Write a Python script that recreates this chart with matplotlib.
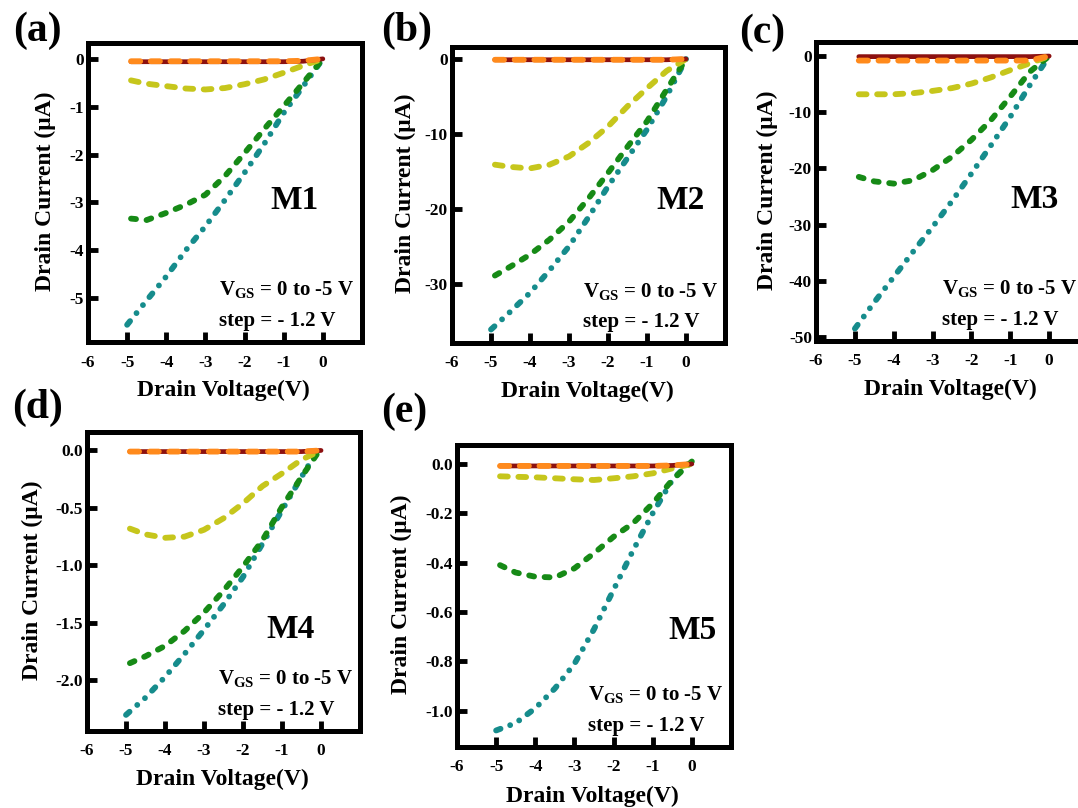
import numpy as np
import matplotlib
matplotlib.use("Agg")
import matplotlib.pyplot as plt

plt.rcParams['font.family'] = ['Liberation Serif', 'DejaVu Serif']
plt.rcParams['font.weight'] = 'bold'
plt.rcParams['axes.unicode_minus'] = False
plt.rcParams['mathtext.default'] = 'regular'
plt.rcParams['lines.scale_dashes'] = False

# drain voltage grid (V)
vd = [-4.9, -4.5, -4.0, -3.5, -3.0, -2.5, -2.0, -1.5, -1.0, -0.5, 0.0]
vd_t = [-5.0, -4.5, -4.0, -3.5, -3.0, -2.5, -2.0, -1.5, -1.0, -0.5, 0.0]

# drain currents (uA) for the five V_GS steps, panels M1..M5
red_a = [-0.06, -0.06, -0.06, -0.06, -0.06, -0.06, -0.06, -0.06, -0.06, -0.05, 0.0]
orange_a = [-0.05, -0.05, -0.05, -0.05, -0.05, -0.05, -0.05, -0.05, -0.05, -0.04, 0.0]
yellow_a = [-0.45, -0.52, -0.57, -0.62, -0.64, -0.61, -0.53, -0.43, -0.29, -0.14, 0.0]
green_a = [-3.34, -3.37, -3.22, -3.05, -2.84, -2.45, -1.97, -1.47, -0.99, -0.50, 0.0]
teal_a = [-5.56, -5.05, -4.55, -4.00, -3.50, -2.95, -2.38, -1.78, -1.13, -0.57, 0.0]

red_b = [-0.1, -0.1, -0.1, -0.1, -0.1, -0.1, -0.1, -0.1, -0.1, -0.1, 0.0]
orange_b = [-0.1, -0.1, -0.1, -0.1, -0.1, -0.1, -0.1, -0.1, -0.1, -0.1, 0.0]
yellow_b = [-14.1, -14.4, -14.6, -14.1, -13.0, -11.2, -9.0, -6.3, -3.9, -1.6, 0.0]
green_b = [-28.9, -27.7, -26.1, -24.1, -21.7, -18.6, -15.2, -11.7, -8.3, -4.1, 0.0]
teal_b = [-36.1, -33.7, -31.2, -28.2, -25.0, -21.1, -17.0, -13.2, -9.4, -5.0, 0.0]

red_c = [-0.1, -0.1, -0.1, -0.1, -0.1, -0.1, -0.1, -0.1, -0.1, -0.1, 0.0]
orange_c = [-0.8, -0.8, -0.8, -0.8, -0.8, -0.8, -0.8, -0.8, -0.8, -0.8, 0.0]
yellow_c = [-6.8, -6.8, -6.8, -6.6, -6.2, -5.7, -4.9, -3.8, -2.5, -1.3, 0.0]
green_c = [-21.5, -22.3, -22.7, -22.1, -20.3, -17.9, -14.9, -11.4, -7.2, -2.8, 0.0]
teal_c = [-48.5, -43.8, -39.3, -34.8, -30.4, -25.8, -20.9, -15.9, -10.8, -5.2, 0.0]

red_d = [-0.01, -0.01, -0.01, -0.01, -0.01, -0.01, -0.01, -0.01, -0.01, -0.01, 0.0]
orange_d = [-0.01, -0.01, -0.01, -0.01, -0.01, -0.01, -0.01, -0.01, -0.01, -0.01, 0.0]
yellow_d = [-0.68, -0.73, -0.76, -0.75, -0.69, -0.59, -0.46, -0.31, -0.20, -0.08, 0.0]
green_d = [-1.85, -1.79, -1.70, -1.57, -1.41, -1.22, -1.01, -0.78, -0.49, -0.23, 0.02]
teal_d = [-2.30, -2.15, -1.97, -1.77, -1.56, -1.34, -1.10, -0.81, -0.52, -0.23, 0.05]

red_e = [-0.008, -0.008, -0.008, -0.008, -0.008, -0.008, -0.008, -0.008, -0.008, -0.006, 0.0]
orange_e = [-0.008, -0.008, -0.008, -0.008, -0.008, -0.008, -0.008, -0.008, -0.008, -0.006, 0.0]
yellow_e = [-0.050, -0.052, -0.054, -0.058, -0.062, -0.065, -0.058, -0.050, -0.038, -0.018, 0.0]
green_e = [-0.41, -0.44, -0.457, -0.46, -0.423, -0.362, -0.295, -0.24, -0.16, -0.065, 0.01]
teal_e = [-1.08, -1.05, -0.99, -0.91, -0.81, -0.67, -0.51, -0.35, -0.20, -0.065, 0.016]

panel_tags = ['(a)', '(b)', '(c)', '(d)', '(e)']
device_names = ['M1', 'M2', 'M3', 'M4', 'M5']
yticks_list = [
    [0, -1, -2, -3, -4, -5],
    [0, -10, -20, -30],
    [0, -10, -20, -30, -40, -50],
    [0.0, -0.5, -1.0, -1.5, -2.0],
    [0.0, -0.2, -0.4, -0.6, -0.8, -1.0],
]
xticks = [-6, -5, -4, -3, -2, -1, 0]

curves = [
    (red_a, orange_a, yellow_a, green_a, teal_a),
    (red_b, orange_b, yellow_b, green_b, teal_b),
    (red_c, orange_c, yellow_c, green_c, teal_c),
    (red_d, orange_d, yellow_d, green_d, teal_d),
    (red_e, orange_e, yellow_e, green_e, teal_e),
]

# layout (figure fractions) and per-panel limits
boxes = [
    [0.0816, 0.5767, 0.2542, 0.3700],
    [0.4193, 0.5755, 0.2533, 0.3663],
    [0.7570, 0.5780, 0.2523, 0.3700],
    [0.0807, 0.0953, 0.2533, 0.3700],
    [0.4239, 0.0755, 0.2542, 0.3738],
]
ylims = [(-5.92, 0.33), (-37.9, 1.6), (-50.7, 2.5), (-2.44, 0.16), (-1.147, 0.077)]
name_pos = [(0.752, 0.475), (0.835, 0.483), (0.805, 0.472), (0.744, 0.338), (0.861, 0.387)]
note_x = [0.478, 0.478, 0.462, 0.478, 0.478]
ylab_x = [-0.157, -0.172, -0.180, -0.201, -0.201]
tag_pos = [(0.035, 0.962), (0.377, 0.962), (0.707, 0.960), (0.035, 0.495), (0.375, 0.490)]

c_red = '#8c1010'
c_orange = '#ff8a1c'
c_yellow = '#c6c61c'
c_green = '#168a16'
c_teal = '#168c8c'
lw = 4.2

fig = plt.figure(figsize=(10.78, 8.08), dpi=100)

for i in range(5):
    ax = fig.add_axes(boxes[i])
    red, orange, yellow, green, teal = curves[i]
    ax.plot(vd_t, teal, color=c_teal, lw=lw, dash_capstyle='round',
            linestyle=(0, (3.4, 7.4, 0.01, 7.4, 0.01, 7.4)))
    ax.plot(vd, green, color=c_green, lw=lw, dash_capstyle='round',
            linestyle=(0, (3.6, 7.6)))
    ax.plot(vd, yellow, color=c_yellow, lw=lw, dash_capstyle='round',
            linestyle=(0, (5.6, 7.6)))
    ax.plot(vd, red, color=c_red, lw=3.4, solid_capstyle='round')
    ax.plot(vd, orange, color=c_orange, lw=lw, dash_capstyle='round',
            linestyle=(0, (6.6, 7.6)))

    ax.set_xlim(-6, 1)
    ax.set_ylim(*ylims[i])
    ax.set_xticks(xticks)
    ax.set_yticks(yticks_list[i])
    if i >= 3:
        ax.set_yticklabels([f'{v:.1f}' for v in yticks_list[i]])
    else:
        ax.set_yticklabels([f'{v:g}' for v in yticks_list[i]])
    ax.tick_params(direction='in', length=7, width=3.5, labelsize=12.5)
    ax.tick_params(axis='x', pad=9)
    ax.tick_params(axis='y', pad=3)
    for lab in ax.get_xticklabels() + ax.get_yticklabels():
        lab.set_fontweight('bold')
    for sp in ax.spines.values():
        sp.set_linewidth(3.6)

    ax.set_xlabel('Drain Voltage(V)', fontsize=17, fontweight='bold', va='center')
    ax.xaxis.set_label_coords(0.495, -0.162)
    ax.set_ylabel('Drain Current (\u03bcA)', fontsize=17, fontweight='bold', va='center')
    ax.yaxis.set_label_coords(ylab_x[i], 0.505)

    ax.text(*name_pos[i], device_names[i], transform=ax.transAxes, fontsize=24,
            fontweight='bold', ha='center', va='center')
    ax.text(note_x[i], 0.175, r'V$_{GS}$ = 0 to -5 V', transform=ax.transAxes,
            fontsize=15, fontweight='bold', ha='left', va='center')
    ax.text(note_x[i], 0.07, 'step = - 1.2 V', transform=ax.transAxes,
            fontsize=15, fontweight='bold', ha='left', va='center')

    fig.text(*tag_pos[i], panel_tags[i], fontsize=30, fontweight='bold',
             ha='center', va='center')

fig.savefig('out.png', dpi=100)
